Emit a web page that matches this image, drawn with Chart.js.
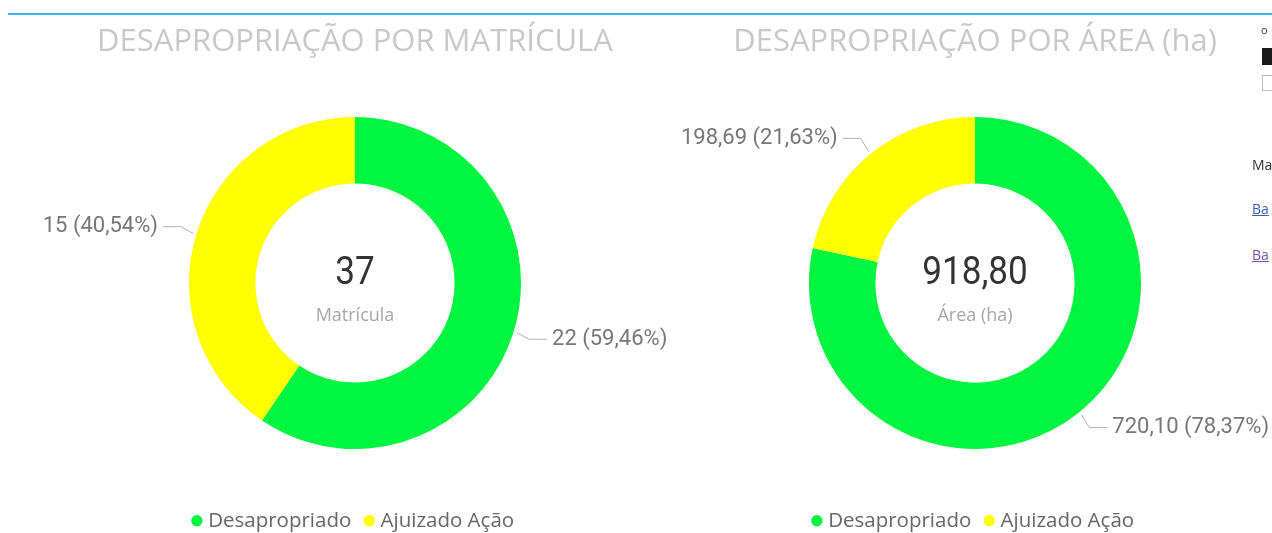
<!DOCTYPE html>
<html>
<head>
<meta charset="utf-8">
<script src="https://cdn.jsdelivr.net/npm/chart.js@4.4.1/dist/chart.umd.min.js"></script>
<style>
  html, body { margin: 0; padding: 0; width: 1272px; height: 533px; overflow: hidden; background: #fff; font-family: "Open Sans", sans-serif; }
  .rule { position: absolute; left: 8px; right: 0; top: 13px; height: 2px; background: #3fb0f5; }
  canvas.donut { position: absolute; top: 0; }
  #cMat { left: 15px; }
  #cArea { left: 635px; }
  .side { position: absolute; left: 1252px; font-size: 14px; color: #333; white-space: nowrap; }
  .side.o { left: 1261px; top: 22px; font-size: 11px; }
  .side.blk { left: 1262px; top: 48px; width: 12px; height: 17px; background: #1a1a1a; }
  .side.box { left: 1262px; top: 75px; width: 12px; height: 16px; border: 1px solid #bbb; box-sizing: border-box; }
  .side.ma { top: 155px; }
  .side.l1 { top: 199px; color: #3d5fb3; text-decoration: underline; }
  .side.l2 { top: 245px; color: #7b4fa6; text-decoration: underline; }
</style>
</head>
<body>
<div class="rule"></div>
<canvas id="cMat" class="donut" width="680" height="541"></canvas>
<canvas id="cArea" class="donut" width="680" height="541"></canvas>
<div class="side o">o</div>
<div class="side blk"></div>
<div class="side box"></div>
<div class="side ma">Ma</div>
<div class="side l1">Ba</div>
<div class="side l2">Ba</div>

<script>
// Categories and values
const categories = ['Desapropriado', 'Ajuizado Ação'];
const matriculaValues = [22, 15];
const areaValues = [720.10, 198.69];
const chartTitles = ['DESAPROPRIAÇÃO POR MATRÍCULA', 'DESAPROPRIAÇÃO POR ÁREA (ha)'];
const centerTotals = [37, 918.80];
const centerCaptions = ['Matrícula', 'Área (ha)'];
const valueDecimals = [0, 2];
const sliceColors = ['#00F540', '#FFFF00'];

function fmt(v, dec) {
  const s = v.toFixed(dec);
  const [ip, fp] = s.split('.');
  const grouped = ip.replace(/\B(?=(\d{3})+(?!\d))/g, '.');
  return fp ? grouped + ',' + fp : grouped;
}

// Outside labels with elbow leader lines
const sliceLabels = {
  id: 'sliceLabels',
  afterDatasetsDraw(chart, args, opts) {
    const ctx = chart.ctx;
    const ds = chart.data.datasets[0];
    const total = ds.data.reduce((a, b) => a + b, 0);
    const meta = chart.getDatasetMeta(0);
    meta.data.forEach((arc, i) => {
      const p = arc.getProps(['x', 'y', 'startAngle', 'endAngle', 'outerRadius'], true);
      const mid = (p.startAngle + p.endAngle) / 2;
      const c = Math.cos(mid), s = Math.sin(mid);
      const r0 = p.outerRadius + 3;
      const re = p.outerRadius + 16;
      const x0 = p.x + r0 * c, y0 = p.y + r0 * s;
      const xe = p.x + re * c, ye = p.y + re * s + 3 * Math.sign(s);
      const dir = c >= 0 ? 1 : -1;
      const x1 = xe + dir * 18;
      ctx.save();
      ctx.strokeStyle = '#b3b3b3';
      ctx.lineWidth = 1;
      ctx.beginPath();
      ctx.moveTo(x0, y0);
      ctx.lineTo(xe, ye);
      ctx.lineTo(x1, ye);
      ctx.stroke();
      const v = ds.data[i];
      const text = fmt(v, opts.decimals) + ' (' + fmt(v / total * 100, 2) + '%)';
      ctx.font = '22px Roboto';
      ctx.fillStyle = '#777777';
      ctx.textAlign = dir > 0 ? 'left' : 'right';
      ctx.textBaseline = 'middle';
      ctx.fillText(text, x1 + dir * 5, ye);
      ctx.restore();
    });
  }
};

// Total and caption in the hole
const centerText = {
  id: 'centerText',
  afterDraw(chart, args, opts) {
    const arc = chart.getDatasetMeta(0).data[0];
    if (!arc) return;
    const ctx = chart.ctx;
    ctx.save();
    ctx.textAlign = 'center';
    ctx.textBaseline = 'middle';
    ctx.save();
    ctx.translate(arc.x, arc.y - 9);
    ctx.scale(0.9, 1);
    ctx.font = '39px Roboto';
    ctx.fillStyle = '#333333';
    ctx.fillText(fmt(opts.total, opts.decimals), 0, 0);
    ctx.restore();
    ctx.font = '18px "Open Sans"';
    ctx.fillStyle = '#a6a6a6';
    ctx.fillText(opts.caption, arc.x, arc.y + 33);
    ctx.restore();
  }
};

function makeDonut(id, values, idx) {
  return new Chart(document.getElementById(id), {
    type: 'doughnut',
    data: {
      labels: categories,
      datasets: [{ data: values, backgroundColor: sliceColors, borderWidth: 0, hoverOffset: 0 }]
    },
    options: {
      responsive: false,
      animation: false,
      radius: 166,
      cutout: '60%',
      events: [],
      layout: { padding: 0 },
      plugins: {
        title: {
          display: true,
          text: chartTitles[idx],
          color: '#c8c8c8',
          font: { family: 'Open Sans', size: 31, weight: 'normal' },
          padding: { top: 23.5, bottom: 11.8 }
        },
        legend: {
          position: 'bottom',
          labels: {
            usePointStyle: true,
            pointStyle: 'circle',
            boxWidth: 2,
            boxHeight: 8,
            color: '#666666',
            font: { family: 'Open Sans', size: 20.5 },
            padding: 17
          }
        },
        tooltip: { enabled: false },
        sliceLabels: { decimals: valueDecimals[idx] },
        centerText: { total: centerTotals[idx], decimals: valueDecimals[idx], caption: centerCaptions[idx] }
      }
    },
    plugins: [sliceLabels, centerText]
  });
}

makeDonut('cMat', matriculaValues, 0);
makeDonut('cArea', areaValues, 1);
</script>
</body>
</html>
